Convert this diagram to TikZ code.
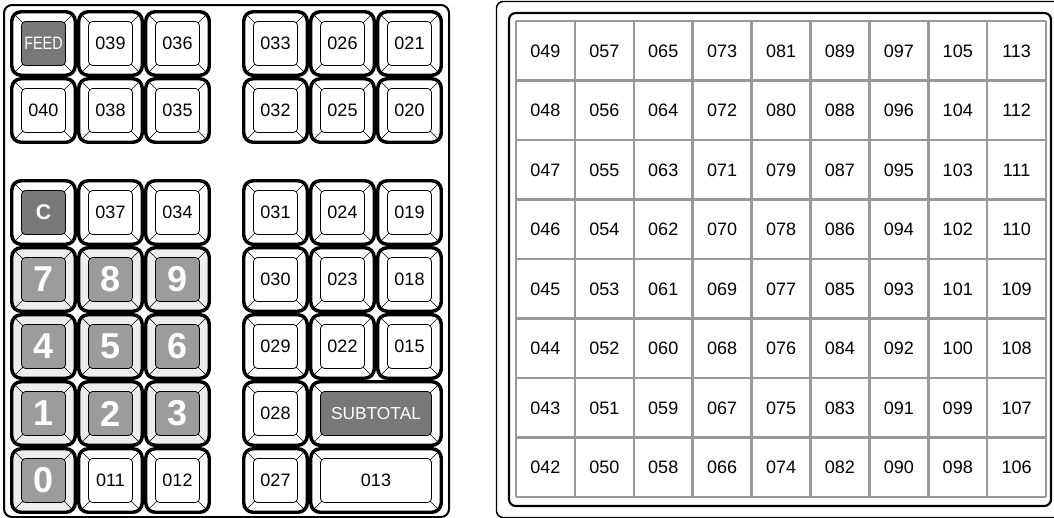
\documentclass[tikz,border=0pt]{standalone}
\usepackage{fontspec}
\setmainfont{Liberation Sans}
\usepackage{graphicx}
\usepackage{xcolor}
\usepackage{tikz}

\definecolor{capdark}{gray}{0.47}
\definecolor{capmid}{gray}{0.61}
\definecolor{keybed}{gray}{0.93}
\definecolor{gridgray}{gray}{0.6}

% one key: #1 name, #2 x, #3 y, #4 width, #5 bed colour, #6 cap style, #7 label
\newcommand{\regkey}[7]{%
  \begin{scope}[shift={(#2,#3)}]
    \draw[rim, fill=#5] (1.75,1.75) rectangle (#4-1.75,65.25);
    \draw[bevel] (4,4) -- (16,16) (#4-4,4) -- (#4-16,16)
      (4,63) -- (16,51) (#4-4,63) -- (#4-16,51);
    \node[#6, minimum width={(#4-23)*0.75pt}, minimum height=33pt] (#1) at (#4/2,33.5) {#7};
  \end{scope}}

\begin{document}
\begin{tikzpicture}[
  x=0.75pt, y=-0.75pt,
  rim/.style={draw=black, line width=2.6pt, rounded corners=7pt},
  bevel/.style={draw=black, line width=0.5pt},
  keytop/.style={draw=black, line width=0.6pt, rounded corners=3pt, inner sep=0pt,
    font=\fontsize{13.5}{13.5}\selectfont},
  plaincap/.style={keytop, fill=white},
  funccap/.style={keytop, fill=capdark, text=white},
  numcap/.style={keytop, fill=capmid, text=white, font=\fontsize{27}{27}\selectfont\bfseries},
  frame/.style={draw=black, rounded corners=5pt},
  gridline/.style={draw=gridgray, line width=1.9pt},
  cell/.style={inner sep=0pt, font=\fontsize{13.5}{13.5}\selectfont},
]
\useasboundingbox (0,0) rectangle (1054,518);
% ---- keyboard
\draw[frame, line width=1.5pt, rounded corners=6pt] (4,5) rectangle (449,517);
\regkey{kfeed}{10}{10}{67}{white}{funccap}{\scalebox{0.8}[1]{FEED}}
\foreach \x/\lb in {77/039,144/036,242/033,309/026,376/021}
  \regkey{k\lb}{\x}{10}{67}{white}{plaincap}{\lb};
\foreach \x/\lb in {10/040,77/038,144/035,242/032,309/025,376/020}
  \regkey{k\lb}{\x}{77}{67}{white}{plaincap}{\lb};
\regkey{kclear}{10}{179}{67}{white}{funccap, font=\fontsize{16}{16}\selectfont\bfseries}{C}
\foreach \x/\lb in {77/037,144/034,242/031,309/024,376/019}
  \regkey{k\lb}{\x}{179}{67}{white}{plaincap}{\lb};
% numeric pad
\foreach \x/\y/\lb in {10/246/7,77/246/8,144/246/9,10/313/4,77/313/5,144/313/6,
    10/380/1,77/380/2,144/380/3,10/447/0}
  \regkey{n\lb}{\x}{\y}{67}{keybed}{numcap}{\lb};
\foreach \x/\y/\lb in {242/246/030,309/246/023,376/246/018,242/313/029,309/313/022,
    376/313/015,242/380/028,77/447/011,144/447/012,242/447/027}
  \regkey{k\lb}{\x}{\y}{67}{white}{plaincap}{\lb};
\regkey{ksub}{309}{380}{134}{white}{funccap, font=\fontsize{13}{13}\selectfont}{SUBTOTAL}
\regkey{k013}{309}{447}{134}{white}{plaincap}{013}
% ---- flat key sheet
\draw[frame, line width=1.1pt] (496.5,1.5) rectangle (1064,517.5);
\draw[frame, line width=1.6pt] (509,13) rectangle (1051,506);
\foreach \c in {0,...,9}
  \draw[gridline] (516+58.9*\c,21) -- (516+58.9*\c,497);
\foreach \r in {0,...,8}
  \draw[gridline] (516,21+59.5*\r) -- (1046.1,21+59.5*\r);
\foreach \c in {0,...,8}
  \foreach \r in {0,...,7} {
    \pgfmathtruncatemacro\n{49+8*\c-\r}
    \node[cell] (p\n) at (545.45+58.9*\c, 51+59.5*\r) {\ifnum\n<100 0\fi\n};
  }
\end{tikzpicture}
\end{document}
